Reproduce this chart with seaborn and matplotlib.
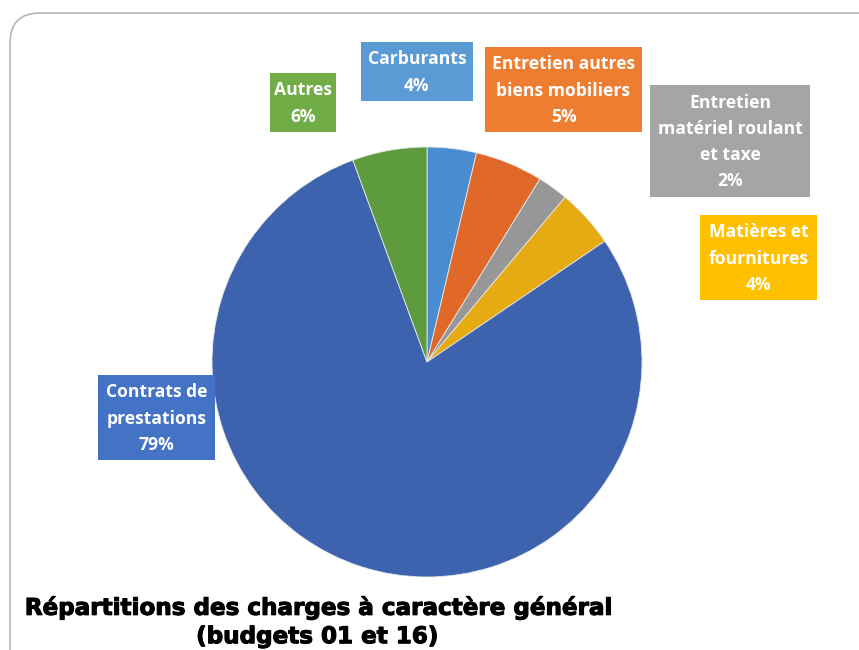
import matplotlib
matplotlib.use("Agg")
import matplotlib.pyplot as plt
from matplotlib.patches import FancyBboxPatch, Rectangle
import matplotlib.patheffects as pe
import seaborn as sns

# ---- data ----
categories = ["Carburants", "Entretien autres biens mobiliers", "Entretien matériel roulant et taxe",
              "Matières et fournitures", "Contrats de prestations", "Autres"]
values = [3.7, 5.1, 2.3, 4.4, 78.9, 5.6]
label_texts = ["Carburants\n4%", "Entretien autres\nbiens mobiliers\n5%",
               "Entretien\nmatériel roulant\net taxe\n2%", "Matières et\nfournitures\n4%",
               "Contrats de\nprestations\n79%", "Autres\n6%"]
slice_colors = ["#4A8CD0", "#E0692A", "#979797", "#E6AA12", "#3E63AE", "#5E9B3E"]
box_colors = ["#5B9BD5", "#ED7D31", "#A5A5A5", "#FFC000", "#4472C4", "#70AD47"]
title = "Répartitions des charges à caractère général\n(budgets 01 et 16)"

sns.set_theme(style="white")
plt.rcParams['font.family'] = ['DejaVu Sans']

W, H = 859, 650
fig = plt.figure(figsize=(W / 100, H / 100), dpi=100)
fig.patch.set_facecolor("white")

def fx(x): return x / W
def fy(y): return 1 - y / H

# rounded border
border = FancyBboxPatch((fx(10), fy(700)), fx(900) - fx(10), fy(13) - fy(700),
                        boxstyle="round,pad=0,rounding_size=0.035",
                        transform=fig.transFigure, facecolor="none",
                        edgecolor="#B5B5B5", linewidth=1.2, mutation_aspect=W / H, zorder=-1)
fig.patches.append(border)

# pie
cx, cy, r = 427, 362, 215
ax = fig.add_axes([fx(cx - r), fy(cy + r), fx(2 * r), (2 * r) / H])
ax.set_facecolor("none")
ax.pie(values, colors=slice_colors, startangle=90, counterclock=False,
       wedgeprops=dict(edgecolor="#E8E8E8", linewidth=0.6), radius=1)
ax.set_xlim(-1, 1)
ax.set_ylim(-1, 1)
ax.set_aspect("equal")
ax.axis("off")

# label boxes (x0, y0, x1, y1) in pixels
boxes = [(361, 42, 473, 101), (485, 47, 642, 132), (650, 85, 810, 197),
         (700, 215, 817, 300), (98, 375, 215, 460), (270, 73, 336, 132)]
for (x0, y0, x1, y1), txt, bc in zip(boxes, label_texts, box_colors):
    fig.patches.append(Rectangle((fx(x0), fy(y1)), fx(x1) - fx(x0), fy(y0) - fy(y1),
                                 transform=fig.transFigure, facecolor=bc, edgecolor="none", zorder=2))
    fig.text(fx((x0 + x1) / 2), fy((y0 + y1) / 2 + 1), txt, ha="center", va="center",
             color="white", fontsize=12.6, fontweight="bold", family=["Open Sans", "DejaVu Sans"],
             linespacing=1.58, zorder=3)

fig.text(fx(317), fy(622), title, ha="center", va="center", fontsize=16.6,
         fontweight="bold", color="black", linespacing=1.3, family=["DejaVu Sans"],
         path_effects=[pe.withStroke(linewidth=0.8, foreground="black")], zorder=3)

fig.savefig("out.png", dpi=100)
